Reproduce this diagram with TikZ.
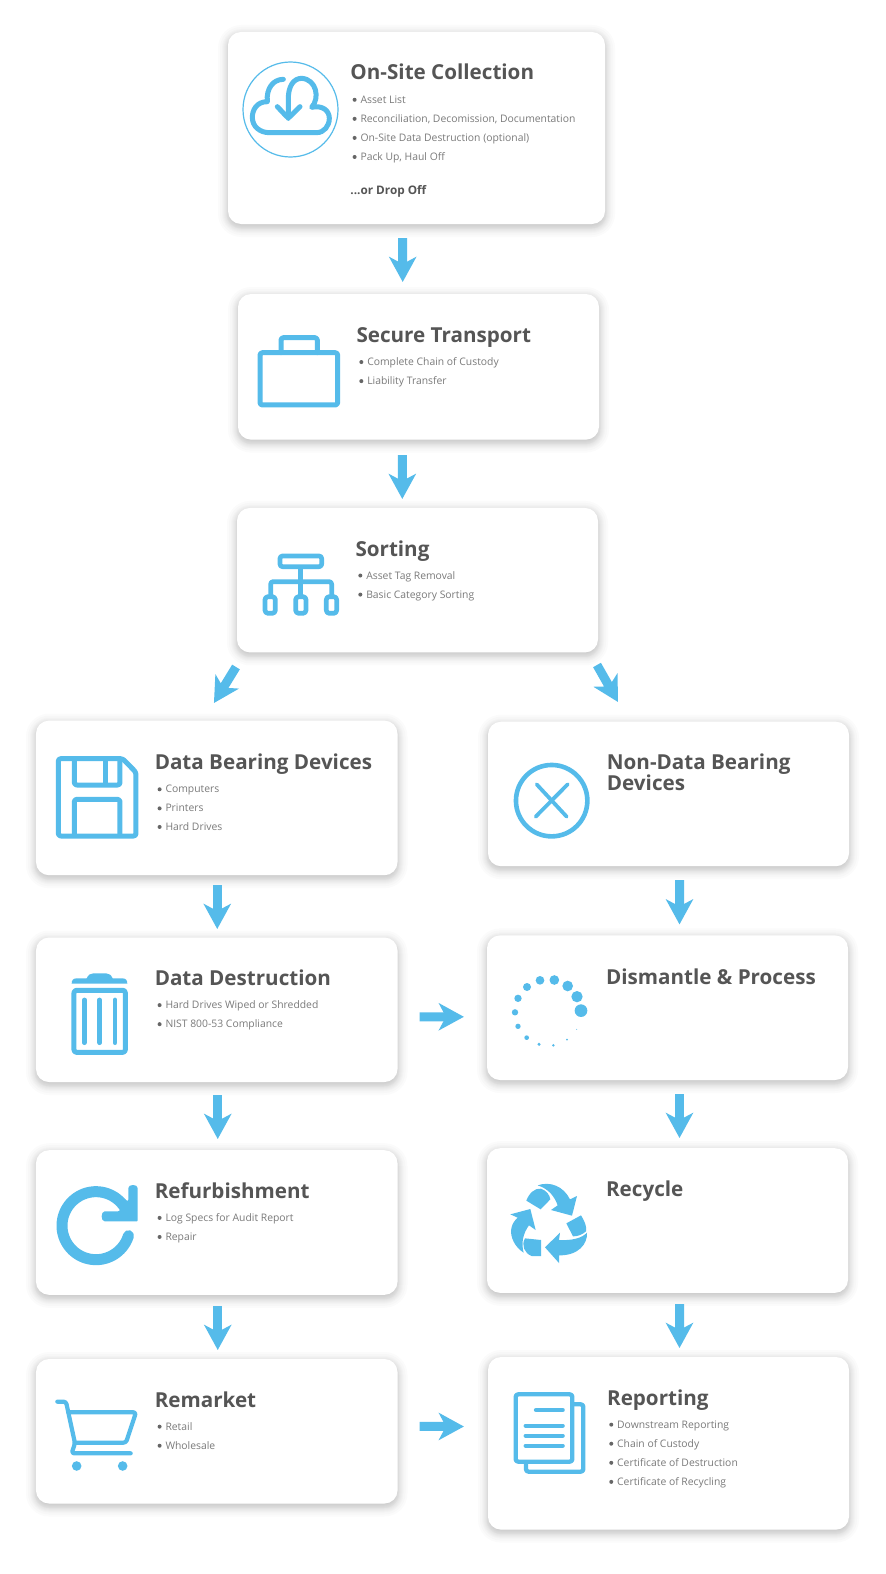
\documentclass[tikz,border=0pt]{standalone}
\usepackage{fontspec}
\setmainfont{Open Sans}
\usetikzlibrary{arrows.meta}
\definecolor{iconc}{HTML}{55BBEA}
\definecolor{titlec}{HTML}{555555}
\definecolor{listc}{HTML}{7A7A7A}
\definecolor{bulc}{HTML}{666666}
\tikzset{
 x=1bp,y=-1bp,
 card/.style={draw=none,fill=white,rounded corners=13bp,inner sep=0pt,outer sep=0pt},
 titletxt/.style={anchor=base west,inner sep=0pt,text=titlec,font=\fontsize{20.7}{21}\selectfont\bfseries,align=left},
 listtxt/.style={anchor=base west,inner sep=0pt,text=listc,font=\fontsize{10.4}{12}\selectfont},
 flowline/.style={draw=iconc,line width=9bp,-{Stealth[length=25bp,width=27bp,inset=7bp,fill=iconc]},shorten >=0pt},
 ic/.style={draw=iconc,line width=5bp,rounded corners=2.5bp,line cap=round,line join=round},
 zoomed/.style={x=.33333bp,y=-.33333bp},
 scaled/.style={x=1.0037bp,y=-1.0037bp},
}
\newcommand\card[5]{%
 \foreach \i in {-2,-1,0,1,1.5,2,3,4,5,6,8,10}{\fill[black,opacity=.014,rounded corners={(13+\i)*1bp}] (#2-\i,#3-\i+3) rectangle (#4+\i,#5+\i+3);}
 \pgfmathsetmacro\cw{#4-#2}\pgfmathsetmacro\ch{#5-#3}\pgfmathsetmacro\ccx{(#2+#4)/2}\pgfmathsetmacro\ccy{(#3+#5)/2}
 \node[card,minimum width=\cw bp,minimum height=\ch bp] (#1) at (\ccx,\ccy) {};}
\newcommand\bul[4]{\fill[bulc] (#2-5.7,#3-3.6) circle (2bp); \node[listtxt] (#1) at (#2,#3) {#4};}
\newcommand\flow[6]{\draw[flowline] ([xshift=#2bp,yshift=#3bp]#1) -- ([xshift=#5bp,yshift=#6bp]#4);}
\begin{document}
\begin{tikzpicture}
\useasboundingbox (0,0) rectangle (885,1574);
\fill[white] (0,0) rectangle (885,1574);
% cards
\card{c1}{228}{32}{605}{224}
\card{c2}{238}{294}{599}{439.6}
\card{c3}{237}{507.9}{598}{652.4}
\card{c4}{36}{720.6}{397.5}{875.2}
\card{c5}{488}{721.7}{849}{866.2}
\card{c6}{36}{937.5}{397.5}{1082}
\card{c7}{487}{935.4}{848}{1080}
\card{c8}{36}{1150.2}{397.5}{1294.8}
\card{c9}{487}{1148.2}{848}{1292.8}
\card{c10}{36}{1359}{397.5}{1503.5}
\card{c11}{488}{1357}{849}{1529.6}
% titles and lists
\begin{scope}[scaled]
\node[titletxt] (t1) at (349,79.7) {On-Site Collection};
\bul{l1a}{359}{103}{Asset List}
\bul{l1b}{359}{122}{Reconciliation, Decomission, Documentation}
\bul{l1c}{359}{141}{On-Site Data Destruction (optional)}
\bul{l1d}{359}{160}{Pack Up, Haul Off}
\node[anchor=base west,inner sep=0pt,text=titlec,font=\fontsize{11.8}{12}\selectfont\bfseries] (t1b) at (349,194) {...or Drop Off};
\node[titletxt] (t2) at (355,341.5) {Secure Transport};
\bul{l2a}{365.7}{364.3}{Complete Chain of Custody}
\bul{l2b}{365.7}{383.3}{Liability Transfer}
\node[titletxt] (t3) at (354,554) {Sorting};
\bul{l3a}{364.7}{577}{Asset Tag Removal}
\bul{l3b}{364.7}{596}{Basic Category Sorting}
\node[titletxt] (t4) at (154,767) {Data Bearing Devices};
\bul{l4a}{164.7}{790}{Computers}
\bul{l4b}{164.7}{809}{Printers}
\bul{l4c}{164.7}{827.5}{Hard Drives}
\node[titletxt] (t5a) at (604.5,767) {Non-Data Bearing};
\node[titletxt] (t5b) at (604.5,788) {Devices};
\node[titletxt] (t6) at (154,982) {Data Destruction};
\bul{l6a}{164.7}{1005}{Hard Drives Wiped or Shredded}
\bul{l6b}{164.7}{1024}{NIST 800-53 Compliance}
\node[titletxt] (t7) at (603.7,980.5) {Dismantle \& Process};
\node[titletxt] (t8) at (154,1194) {Refurbishment};
\bul{l8a}{164.7}{1217}{Log Specs for Audit Report}
\bul{l8b}{164.7}{1236}{Repair}
\node[titletxt] (t9) at (603.7,1192) {Recycle};
\node[titletxt] (t10) at (154,1402) {Remarket};
\bul{l10a}{164.7}{1425}{Retail}
\bul{l10b}{164.7}{1444}{Wholesale}
\node[titletxt] (t11) at (604.7,1400) {Reporting};
\bul{l11a}{614.7}{1423}{Downstream Reporting}
\bul{l11b}{614.7}{1442}{Chain of Custody}
\bul{l11c}{614.7}{1461}{Certificate of Destruction}
\bul{l11d}{614.7}{1480}{Certificate of Recycling}
\end{scope}
% connectors
\flow{c1.south}{-13.8}{-14}{c2.north}{-15.8}{12}
\flow{c2.south}{-16.2}{-15.4}{c3.north}{-15.2}{8.9}
\flow{c3.south}{-181.5}{-14.6}{c4.north}{-2.8}{17.6}
\flow{c3.south}{179.5}{-12.6}{c5.north}{-50.5}{19.7}
\flow{c4.south}{.5}{-9.8}{c6.north}{.5}{8.5}
\flow{c5.south}{11}{-13.8}{c7.north}{12}{11}
\flow{c6.south}{1}{-13}{c8.north}{1}{11.2}
\flow{c7.south}{12}{-14}{c9.north}{12}{10.2}
\flow{c8.south}{1}{-11.2}{c10.north}{1}{9}
\flow{c9.south}{12}{-11.2}{c11.north}{11}{9}
\flow{c6.east}{22}{-7}{c7.west}{-23.1}{-9.1}
\flow{c10.east}{22}{4.8}{c11.west}{-24.1}{16.8}
% cloud icon
\draw[iconc,line width=1.2bp] (290.5,109.5) circle (47.5bp);
\begin{scope}[shift={(220,20)},zoomed]
\draw[ic,rounded corners=0pt] (190,178) .. controls (160,178) and (138,205) .. (142,245)
 .. controls (110,245) and (97,270) .. (97,292) .. controls (97,320) and (120,338) .. (148,338) -- (290,338)
 .. controls (312,338) and (328,318) .. (328,295) .. controls (328,270) and (305,255) .. (275,262)
 .. controls (300,235) and (290,178) .. (245,175) .. controls (220,175) and (205,200) .. (205,235) -- (205,295);
\draw[ic] (172,260) -- (205,295) -- (240,260);
\end{scope}
% briefcase and sorting icons
\begin{scope}[shift={(230,290)},zoomed]
\draw[ic] (90,188) rectangle (323,345);
\draw[ic] (153,188) -- (153,143) -- (262,143) -- (262,188);
\draw[ic,line width=4.7bp] (150,798) rectangle (275,830);
\draw[ic,line width=4.7bp,line cap=butt] (212,830) -- (212,918);
\draw[ic,line width=4.7bp,line cap=butt] (122,918) -- (122,875) -- (305,875) -- (305,918);
\foreach \bx in {105,197,289}{\draw[ic,line width=4.7bp,rounded corners=3bp] (\bx,920) rectangle (\bx+31,970);}
\end{scope}
% floppy and trash icons
\begin{scope}[shift={(30,720)},zoomed]
\draw[ic] (85,116) -- (278,116) -- (318,157) -- (318,348) -- (85,348) -- cycle;
\draw[ic,line cap=butt] (133,116) -- (133,195) -- (270,195) -- (270,116);
\draw[ic,line cap=butt,rounded corners=0pt] (226,116) -- (226,195);
\draw[ic,line cap=butt] (133,348) -- (133,238) -- (270,238) -- (270,348);
\fill[iconc] (125,791) .. controls (125,780) and (130,775) .. (140,775) -- (170,775) .. controls (175,765) and (180,760) .. (190,760) -- (228,760) .. controls (238,760) and (243,765) .. (248,775) -- (277,775) .. controls (287,775) and (292,780) .. (292,791) -- cycle;
\draw[ic] (132,811) -- (286,811) -- (286,997) -- (132,997) -- cycle;
\foreach \bx in {163,209,255}{\draw[iconc,line width=4.8bp,line cap=round] (\bx,840) -- (\bx,968);}
\end{scope}
% cross and spinner icons
\begin{scope}[shift={(490,740)},zoomed]
\draw[iconc,line width=4.6bp] (185,182) circle (35.7bp);
\draw[iconc,line width=3.8bp,line cap=round] (140,133) -- (230,230) (233,133) -- (137,230);
\foreach \dx/\dy/\dr in {273/812/19,261/770/17,233/738/16,193/720/14.5,150/721/13,111/741/12,84/775/11,75/817/9.5,84/859/8,110/893/7,147/913/5,190/916/4,231/899/3,260/868/1.5}{
 \pgfmathsetmacro\rr{\dr/3}\fill[iconc] (\dx,\dy) circle (\rr bp);}
\end{scope}
% refresh and cart icons
\begin{scope}[shift={(40,1170)},zoomed]
\draw[iconc,line width=11bp,line cap=round] plot[domain=17:325,samples=70,smooth] ({168+102*cos(\x)},{167+102*sin(\x)});
\fill[iconc,rounded corners=2bp] (235,75) -- (265,95) -- (265,60) .. controls (265,42) and (293,42) .. (293,60) -- (293,145) .. controls (293,150) and (290,154) .. (285,154) -- (200,154) .. controls (182,154) and (182,124) .. (200,124) -- (240,124) -- cycle;
\draw[ic,line width=4.2bp] (52,695) -- (78,695) -- (105,820) -- (95,850) -- (272,850);
\draw[ic,line width=4.2bp] (85,727) -- (288,727) -- (258,818) -- (105,818);
\fill[iconc] (110,888) circle (4.8bp) (248,888) circle (4.8bp);
\end{scope}
% recycle and document icons
\begin{scope}[shift={(495,1170)},zoomed]
\fill[iconc] (128,46) .. controls (165,33) and (205,48) .. (225,88) -- (246,78) -- (231,137) -- (168,120) -- (188,106) .. controls (178,78) and (160,56) .. (128,46) -- cycle;
\fill[iconc] (94,92) .. controls (102,70) and (120,53) .. (138,56) .. controls (155,62) and (164,75) .. (166,88) -- (137,118) -- cycle;
\fill[iconc] (46,133) -- (106,117) -- (122,180) -- (102,166) .. controls (84,190) and (78,220) .. (86,248) .. controls (60,232) and (44,200) .. (49,175) .. controls (52,160) and (60,150) .. (68,143) -- cycle;
\fill[iconc] (90,205) -- (138,210) -- (138,258) -- (110,258) .. controls (88,250) and (78,225) .. (90,205) -- cycle;
\fill[iconc] (150,232) -- (195,188) -- (192,210) .. controls (230,212) and (260,205) .. (276,188) .. controls (278,222) and (250,257) .. (192,256) -- (192,279) -- cycle;
\fill[iconc] (214,160) -- (258,136) .. controls (270,155) and (276,172) .. (273,184) .. controls (260,196) and (245,199) .. (234,199) -- cycle;
\draw[ic,line width=4.3bp] (62,673) rectangle (232,875);
\draw[ic,line width=4.3bp] (235,703) -- (265,703) -- (265,905) -- (93,905) -- (93,878);
\draw[iconc,line width=4.3bp,line cap=round] (123,720) -- (203,720) (92,767) -- (203,767) (92,797) -- (203,797) (92,827) -- (203,827);
\end{scope}
\end{tikzpicture}
\end{document}
